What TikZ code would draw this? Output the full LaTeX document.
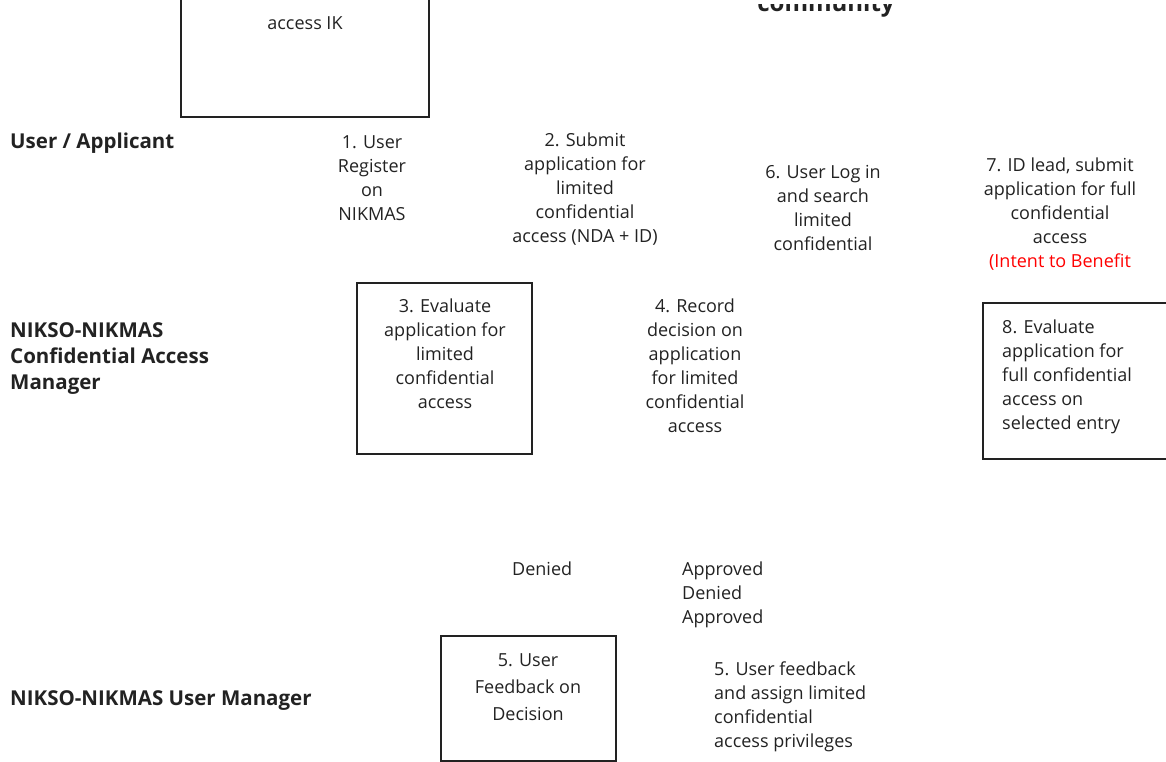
\documentclass[tikz,border=0pt]{standalone}
\usepackage{fontspec}
\setmainfont{Open Sans}
\definecolor{txt}{HTML}{222222}
\begin{document}
\begin{tikzpicture}[x=1pt,y=-1pt,
  lbl/.style={inner sep=0pt, text=txt, font=\fontsize{18}{24}\selectfont},
  ctr/.style={lbl, align=center, anchor=north},
  lft/.style={lbl, align=left, anchor=north west},
  lane/.style={lbl, align=left, anchor=north west, font=\bfseries\fontsize{20.5}{26}\selectfont},
  boxed/.style={draw=txt, line width=1.2pt}]
\useasboundingbox (0,0) rectangle (1166,762);
\clip (0,0) rectangle (1166,762);
% boxes
\draw[boxed] (181,-20) rectangle (429,117);
\node[ctr] (t0) at (305,16) {access IK};
\begin{scope}
\clip (700,5) rectangle (950,30);
\node[lbl, anchor=base, font=\bfseries\fontsize{24}{28}\selectfont] (comm) at (826,12) {community};
\end{scope}
% lanes
\node[lane] (l1) at (10,133) {User / Applicant};
\node[lane] (l2) at (10,322) {NIKSO-NIKMAS\\Confidential Access\\Manager};
\node[lane] (l3) at (10,690) {NIKSO-NIKMAS User Manager};
% steps
\node[ctr] (s1) at (372,135) {1. User\\Register\\on\\NIKMAS};
\node[ctr] (s2) at (585,133) {2. Submit\\application for\\limited\\confidential\\access (NDA + ID)};
\node[ctr] (s6) at (823,165) {6. User Log in\\and search\\limited\\confidential};
\node[ctr] (s7) at (1060,158) {7. ID lead, submit\\application for full\\confidential\\access\\{\color{red}(Intent to Benefit}};
\draw[boxed] (357,283) rectangle (532,454);
\node[ctr] (s3) at (445,299) {3. Evaluate\\application for\\limited\\confidential\\access};
\node[ctr] (s4) at (695,299) {4. Record\\decision on\\application\\for limited\\confidential\\access};
\draw[boxed] (983,303) rectangle (1180,459);
\node[lft] (s8) at (1002,320) {8. Evaluate\\application for\\full confidential\\access on\\selected entry};
\node[lft] (d1) at (512,562) {Denied};
\node[lft] (d2) at (682,562) {Approved\\Denied\\Approved};
\draw[boxed] (441,636) rectangle (616,761);
\node[ctr, font=\fontsize{18}{27}\selectfont] (s5) at (528,653) {5. User\\Feedback on\\Decision};
\node[lft] (s5b) at (714,662) {5. User feedback\\and assign limited\\confidential\\access privileges};
\end{tikzpicture}
\end{document}
